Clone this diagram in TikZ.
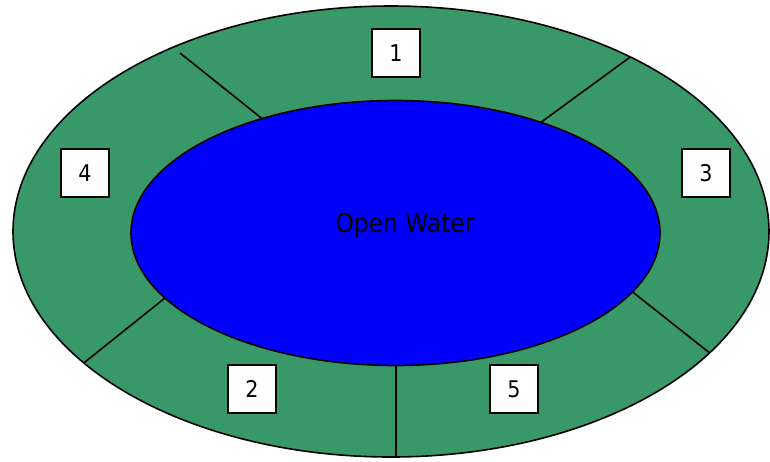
\documentclass[tikz,border=0pt]{standalone}
\usepackage{fontspec}
\setmainfont{DejaVu Sans Condensed}
\definecolor{pondgreen}{RGB}{56,152,104}
\definecolor{water}{RGB}{0,0,255}
\tikzset{
  zonebox/.style={draw=black, line width=1.6pt, fill=white, minimum width=48pt, minimum height=48pt, inner sep=0pt, font=\fontsize{23}{25}\selectfont},
  divider/.style={draw=black, line width=1.6pt}
}
\begin{document}
\begin{tikzpicture}[x=1pt,y=-1pt]
\useasboundingbox (0,0) rectangle (770,461);
% outer ring
\fill[pondgreen] (391,231.5) ellipse [x radius=378, y radius=225.5];
\begin{scope}
  \clip (391,231.5) ellipse [x radius=378, y radius=225.5];
  \coordinate (a1) at (180,53);  \coordinate (a2) at (280,133);
  \coordinate (b1) at (648,44);  \coordinate (b2) at (525,134);
  \coordinate (c1) at (65,378);  \coordinate (c2) at (185,282);
  \coordinate (d1) at (740,377); \coordinate (d2) at (615,278);
  \coordinate (e1) at (396,470); \coordinate (e2) at (396,340);
  \draw[divider] (a1) -- (a2);
  \draw[divider] (b1) -- (b2);
  \draw[divider] (c1) -- (c2);
  \draw[divider] (d1) -- (d2);
  \draw[divider] (e1) -- (e2);
\end{scope}
\draw[line width=1.6pt] (391,231.5) ellipse [x radius=378, y radius=225.5];
% open water
\draw[line width=1.6pt, fill=water] (395.5,233) ellipse [x radius=264.5, y radius=132.5];
\node (water) at (405,226) {\fontsize{26}{28}\selectfont Open Water};
% zone boxes
\node[zonebox] (z1) at (396,53) {1};
\node[zonebox] (z4) at (85,173) {4};
\node[zonebox] (z3) at (706,173) {3};
\node[zonebox] (z2) at (252,389) {2};
\node[zonebox] (z5) at (514,389) {5};
\end{tikzpicture}
\end{document}
